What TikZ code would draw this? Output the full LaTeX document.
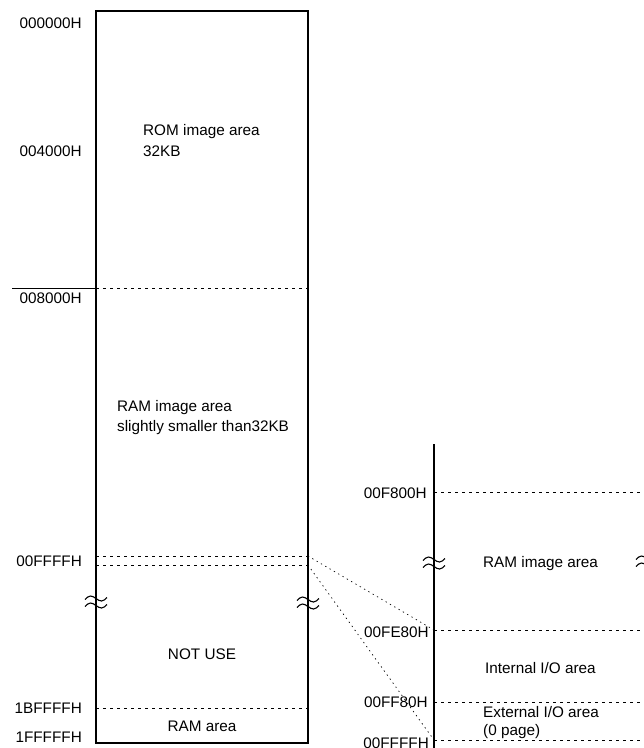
\documentclass[tikz,border=0pt]{standalone}
\usepackage{fontspec}
\setmainfont{Liberation Sans}
\begin{document}
\begin{tikzpicture}[x=1pt,y=-1pt,
  txt/.style={inner sep=0pt,font=\fontsize{15.3}{18}\selectfont},
  lbl/.style={txt,anchor=base east},
  lft/.style={txt,anchor=base west},
  ctr/.style={txt,anchor=base},
  wall/.style={line width=1.4pt},
  sep/.style={line width=0.7pt,dash pattern=on 3pt off 4pt},
  diag/.style={line width=0.7pt,dash pattern=on 1.3pt off 3.7pt},
  wave/.style={line width=1.1pt}]
\useasboundingbox (0,0) rectangle (644,748);
\clip (0,0) rectangle (644,748);
\newcommand\brkmark[2]{%
  \draw[wave] (#1-11,#2-2.5) sin (#1-5.5,#2-6) cos (#1,#2-3.5) sin (#1+5.5,#2-1) cos (#1+11,#2-4.5);
  \draw[wave] (#1-11,#2+4.5) sin (#1-5.5,#2+1) cos (#1,#2+3.5) sin (#1+5.5,#2+6) cos (#1+11,#2+2.5);}
% left map
\coordinate (tl) at (96,11);
\coordinate (tr) at (308,11);
\coordinate (bl) at (96,743);
\coordinate (br) at (308,743);
\draw[wall] (tl) -- (tr) -- (br) -- (bl) -- cycle;
\coordinate (a8s) at (12,288);
\coordinate (a8l) at (96,288);
\coordinate (a8r) at (308,288);
\draw[line width=0.8pt] (a8s) -- (a8l);
\draw[sep] (a8l) -- (a8r);
\coordinate (f1l) at (96,556);
\coordinate (f1r) at (308,556);
\coordinate (f2l) at (96,565);
\coordinate (f2r) at (308,565);
\draw[sep] (f1l) -- (f1r);
\draw[sep] (f2l) -- (f2r);
\coordinate (bfl) at (96,708);
\coordinate (bfr) at (308,708);
\draw[sep] (bfl) -- (bfr);
\brkmark{96}{602}
\brkmark{308}{603}
\node[lbl] (l0) at (82,28) {000000H};
\node[lbl] (l4) at (82,156) {004000H};
\node[lbl] (l8) at (82,303) {008000H};
\node[lbl] (lf) at (82,566) {00FFFFH};
\node[lbl] (lb) at (82,713) {1BFFFFH};
\node[lbl] (l1f) at (82,742) {1FFFFFH};
\node[lft] (rom1) at (143,135) {ROM image area};
\node[lft] (rom2) at (143,156) {32KB};
\node[lft] (ram1) at (117,411) {RAM image area};
\node[lft] (ram2) at (117,431) {slightly smaller than32KB};
\node[ctr] (nu) at (202,659) {NOT USE};
\node[ctr] (ra) at (202,731) {RAM area};
% right detail
\coordinate (vt) at (434,444);
\coordinate (vb) at (434,760);
\draw[wall] (vt) -- (vb);
\coordinate (r1l) at (434,492);
\coordinate (r1r) at (650,492);
\coordinate (r2l) at (434,630);
\coordinate (r2r) at (650,630);
\coordinate (r3l) at (434,702);
\coordinate (r3r) at (650,702);
\coordinate (r4l) at (434,740);
\coordinate (r4r) at (650,740);
\draw[sep] (r1l) -- (r1r);
\draw[sep] (r2l) -- (r2r);
\draw[sep] (r3l) -- (r3r);
\draw[sep] (r4l) -- (r4r);
\brkmark{434}{563}
\brkmark{647}{562}
\draw[diag] (f1r) -- (r2l);
\draw[diag] (f2r) -- (r4l);
\node[lbl] (rl1) at (427,498) {00F800H};
\node[lbl] (rl2) at (429,637) {00FE80H};
\node[lbl] (rl3) at (428,707) {00FF80H};
\node[lbl] (rl4) at (429,748) {00FFFFH};
\node[lft] (rr1) at (483,567) {RAM image area};
\node[lft] (rr2) at (485,673) {Internal I/O area};
\node[lft] (rr3) at (483,717) {External I/O area};
\node[lft] (rr4) at (483,735) {(0 page)};
\end{tikzpicture}
\end{document}
